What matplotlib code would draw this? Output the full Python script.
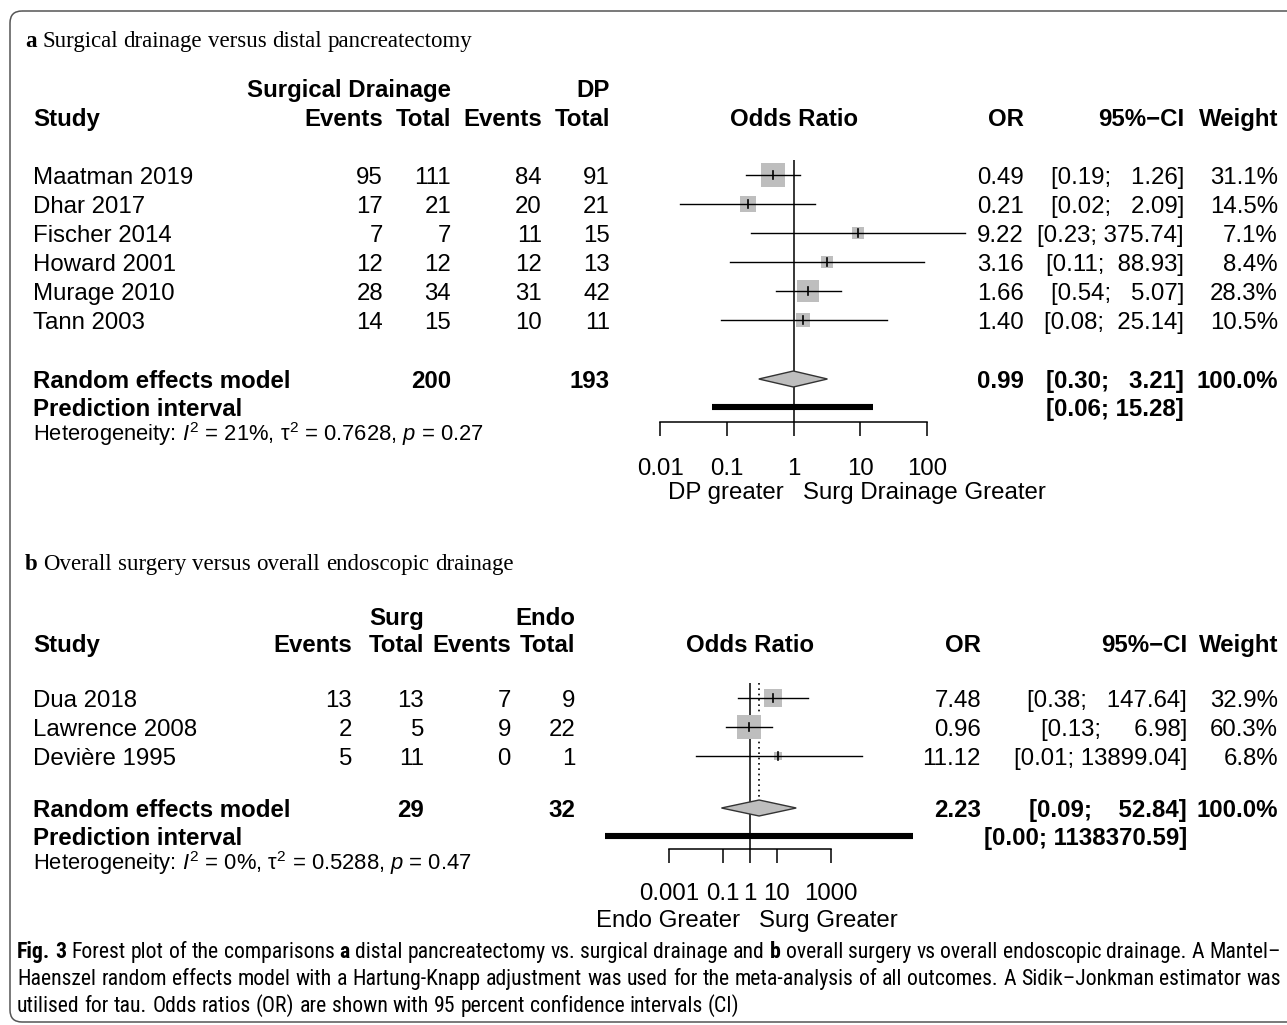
"""
Forest plots (a, b) of the pancreatic drainage meta-analysis, redrawn with matplotlib.

Everything is laid out in pixels: the figure is 1287x1025 px at dpi 100 and one
full-figure axes maps 1 data unit to 1 px (y grows downward). Each forest panel
gets its own log-x axes whose y units are the same pixel rows.
"""
import math

import matplotlib
matplotlib.use("Agg")
import matplotlib.pyplot as plt
from matplotlib.font_manager import FontProperties, fontManager
from matplotlib.patches import FancyBboxPatch
from matplotlib.ticker import NullLocator

W, H = 1287, 1025
SANS = "Liberation Sans"
SERIF = "Liberation Serif"
FS = 17.3            # table text, pt
GRAY = "#bebebe"

plt.rcParams.update({
    "font.family": SANS,
    "mathtext.fontset": "custom",
    "mathtext.rm": SANS,
    "mathtext.it": SANS + ":italic",
    "mathtext.bf": SANS + ":bold",
    "mathtext.default": "rm",
})

# ---- panel a: surgical drainage vs distal pancreatectomy
STUDIES_A = ["Maatman 2019", "Dhar 2017", "Fischer 2014", "Howard 2001", "Murage 2010", "Tann 2003"]
EV_SD = [95, 17, 7, 12, 28, 14]
N_SD = [111, 21, 7, 12, 34, 15]
EV_DP = [84, 20, 11, 12, 31, 10]
N_DP = [91, 21, 15, 13, 42, 11]
OR_A = [0.49, 0.21, 9.22, 3.16, 1.66, 1.40]
LO_A = [0.19, 0.02, 0.23, 0.11, 0.54, 0.08]
HI_A = [1.26, 2.09, 375.74, 88.93, 5.07, 25.14]
WT_A = [31.1, 14.5, 7.1, 8.4, 28.3, 10.5]
RE_A = [0.99, 0.30, 3.21]          # estimate, lower, upper
PI_A = [0.06, 15.28]
TOT_A = [200, 193]
HET_A = r"Heterogeneity: $\mathit{I}^2$ = 21%, $\tau^2$ = 0.7628, $\mathit{p}$ = 0.27"
TICKS_A = [0.01, 0.1, 1, 10, 100]
TICKLABELS_A = ["0.01", "0.1", "1", "10", "100"]

# ---- panel b: overall surgery vs overall endoscopic drainage
STUDIES_B = ["Dua 2018", "Lawrence 2008", "Devière 1995"]
EV_SU = [13, 2, 5]
N_SU = [13, 5, 11]
EV_EN = [7, 9, 0]
N_EN = [9, 22, 1]
OR_B = [7.48, 0.96, 11.12]
LO_B = [0.38, 0.13, 0.01]
HI_B = [147.64, 6.98, 13899.04]
WT_B = [32.9, 60.3, 6.8]
RE_B = [2.23, 0.09, 52.84]
PI_B = [0.0000044, 1138370.59]     # lower bound prints as 0.00
TOT_B = [29, 32]
HET_B = r"Heterogeneity: $\mathit{I}^2$ = 0%, $\tau^2$ = 0.5288, $\mathit{p}$ = 0.47"
TICKS_B = [0.001, 0.1, 1, 10, 1000]
TICKLABELS_B = ["0.001", "0.1", "1", "10", "1000"]

CAPTION = [
    [("Fig.", "bold"), ("3", "bold"), "Forest plot of the comparisons", ("a", "bold"),
     "distal pancreatectomy vs. surgical drainage and", ("b", "bold"),
     "overall surgery vs overall endoscopic drainage. A Mantel–"],
    ["Haenszel random effects model with a Hartung-Knapp adjustment was used for the "
     "meta-analysis of all outcomes. A Sidik–Jonkman estimator was"],
    ["utilised for tau. Odds ratios (OR) are shown with 95 percent confidence intervals (CI)"],
]


def pick_caption_font():
    # the journal caption is a condensed sans; use one if the box has it
    have = {(f.name, f.stretch) for f in fontManager.ttflist}
    names = {n for n, _ in have}
    for fam in ["Liberation Sans Narrow", "Roboto Condensed", "Open Sans Condensed", "Arial Narrow"]:
        if fam in names:
            return fam, "normal"
    for fam in ["DejaVu Sans", "Roboto", "Open Sans", "Noto Sans"]:
        for st in ("condensed", "semi-condensed"):
            if (fam, st) in have:
                return fam, st
    return SANS, "normal"


CAP_FAM, CAP_STRETCH = pick_caption_font()

fig = plt.figure(figsize=(W / 100, H / 100), dpi=100)
ax = fig.add_axes([0, 0, 1, 1])
ax.set_xlim(0, W)
ax.set_ylim(H, 0)
ax.axis("off")
rend = fig.canvas.get_renderer()


def text_w(s, size, family, weight="normal", stretch="normal"):
    # width incl. trailing spaces: measure against a sentinel glyph
    fp = FontProperties(family=family, size=size, weight=weight, stretch=stretch)
    w1 = rend.get_text_width_height_descent(s + "|", fp, ismath=False)[0]
    w0 = rend.get_text_width_height_descent("|", fp, ismath=False)[0]
    return w1 - w0


def split_words(parts):
    out = []
    for p in parts:
        if isinstance(p, tuple):
            out.append(p)
        else:
            out += [(w, "normal") for w in p.split()]
    return out


def word_line(x, y, words, size, family, right=None, stretch="normal"):
    widths = [text_w(w, size, family, wt, stretch) for w, wt in words]
    gap = text_w(" ", size, family, stretch=stretch)
    if right is not None:
        gap = (right - x - sum(widths)) / (len(words) - 1)
    for (w, wt), wd in zip(words, widths):
        ax.text(x, y, w, fontsize=size, family=family, fontweight=wt, fontstretch=stretch,
                va="baseline")
        x += wd + gap


def tx(x, y, s, ha="left", bold=False, size=FS):
    # y is the visual row centre; shift to baseline
    ax.text(x, y + 0.36 * size / 0.72, s, ha=ha, va="baseline", fontsize=size,
            fontweight="bold" if bold else "normal")


def ci_strings(lo, hi):
    his = [f"{h:.2f}" for h in hi]
    n = max(len(h) for h in his)
    return [f"[{l:.2f};{' ' * (1 + n - len(h))}{h}]" for l, h in zip(lo, his)]


def forest_axes(fx0, fx1, ticks, labels, top, axis_y, label_y):
    fa = fig.add_axes([fx0 / W, 1 - axis_y / H, (fx1 - fx0) / W, (axis_y - top) / H])
    fa.set_xscale("log")
    fa.set_xlim(ticks[0], ticks[-1])
    fa.set_ylim(axis_y, top)
    fa.patch.set_visible(False)
    for s in ("left", "right", "top"):
        fa.spines[s].set_visible(False)
    fa.spines["bottom"].set_linewidth(1.1)
    fa.yaxis.set_visible(False)
    fa.set_xticks(ticks, labels=labels)
    fa.xaxis.set_minor_locator(NullLocator())
    tick_px = 14
    pad = (label_y - 9 - axis_y - tick_px) * 0.72
    fa.tick_params(axis="x", direction="out", length=tick_px * 0.72, width=1.1,
                   pad=pad, labelsize=FS)
    return fa


def draw_panel(L, studies, ev1, n1, ev2, n2, ors, lo, hi, wt, re, pi, tot, het,
               grp1, grp2, ticks, ticklabels, left_lab, right_lab):
    c = L["cols"]
    # headers
    tx(c[1], L["hdr1"], grp1, ha="right", bold=True)
    tx(c[3], L["hdr1"], grp2, ha="right", bold=True)
    tx(33, L["hdr2"], "Study", bold=True)
    for x, s in zip(c[:4], ["Events", "Total", "Events", "Total"]):
        tx(x, L["hdr2"], s, ha="right", bold=True)
    tx(c[4], L["hdr2"], "OR", ha="right", bold=True)
    tx(c[5], L["hdr2"], "95%\u2212CI", ha="right", bold=True)
    tx(c[6], L["hdr2"], "Weight", ha="right", bold=True)

    cis = ci_strings(lo + [re[1]], hi + [re[2]])
    rows = [L["row0"] + i * L["step"] for i in range(len(studies))]
    for i, y in enumerate(rows):
        tx(33, y, studies[i])
        for x, v in zip(c[:4], [ev1[i], n1[i], ev2[i], n2[i]]):
            tx(x, y, str(v), ha="right")
        tx(c[4], y, f"{ors[i]:.2f}", ha="right")
        tx(c[5], y, cis[i], ha="right")
        tx(c[6], y, f"{wt[i]:.1f}%", ha="right")

    tx(33, L["re"], "Random effects model", bold=True)
    tx(c[1], L["re"], str(tot[0]), ha="right", bold=True)
    tx(c[3], L["re"], str(tot[1]), ha="right", bold=True)
    tx(c[4], L["re"], f"{re[0]:.2f}", ha="right", bold=True)
    tx(c[5], L["re"], cis[-1], ha="right", bold=True)
    tx(c[6], L["re"], "100.0%", ha="right", bold=True)
    tx(33, L["pi"], "Prediction interval", bold=True)
    tx(c[5], L["pi"], f"[{pi[0]:.2f}; {pi[1]:.2f}]", ha="right", bold=True)
    tx(33, L["het"], het, size=15.8)

    fa = forest_axes(L["fx0"], L["fx1"], ticks, ticklabels, L["top"], L["axis"], L["label"])
    fa.plot([1, 1], [L["top"], L["axis"]], color="black", lw=1.1, zorder=1)
    if abs(math.log10(re[0])) > 0.05:   # pooled line only shows when off the null line
        fa.plot([re[0], re[0]], [L["top"], L["re"] - 8], color="black", lw=1.2,
                ls=(0, (1, 2.2)), zorder=1)
    wmax = max(wt)
    for i, y in enumerate(rows):
        side = 24 * math.sqrt(wt[i] / wmax) * 0.72
        fa.scatter([ors[i]], [y], marker="s", s=side ** 2, color=GRAY, lw=0,
                   zorder=2, clip_on=False)
        fa.plot([lo[i], hi[i]], [y, y], color="black", lw=1.0, zorder=3, clip_on=False)
        fa.plot([ors[i], ors[i]], [y - 4, y + 4], color="black", lw=1.2, zorder=4)
    y = L["re"]
    fa.fill([re[1], re[0], re[2], re[0]], [y, y - 8, y, y + 8], facecolor=GRAY,
            edgecolor="#333333", lw=1.0, zorder=3, clip_on=False)
    fa.plot(pi, [L["pi"], L["pi"]], color="black", lw=4.4, solid_capstyle="butt",
            zorder=3, clip_on=False)

    fa.text(1, L["hdr2"] + 8.6, "Odds Ratio", ha="center", va="baseline",
            fontsize=FS, fontweight="bold")
    for lab, dx, ha in [(left_lab, -7, "right"), (right_lab, 7, "left")]:
        fa.annotate(lab, xy=(1, L["dir"] + 8.6), xytext=(dx, 0), textcoords="offset points",
                    ha=ha, va="baseline", fontsize=FS, annotation_clip=False)


# outer frame (runs off the right edge like the journal crop)
ax.add_patch(FancyBboxPatch((10, 11), 1320, 1011, boxstyle="round,pad=0,rounding_size=12",
                            fill=False, ec="#555555", lw=1.1, clip_on=False))

word_line(25, 47, split_words([("a", "bold"), "Surgical drainage versus distal pancreatectomy"]),
          16.5, SERIF)
word_line(25, 570, split_words([("b", "bold"), "Overall surgery versus overall endoscopic drainage"]),
          16.5, SERIF)

LAY_A = dict(cols=[383, 451, 542, 610, 1024, 1184, 1278], hdr1=88, hdr2=117, row0=175,
             step=29, re=379, pi=407, het=433, top=160, axis=422, label=467, dir=490,
             fx0=660.3, fx1=927)
LAY_B = dict(cols=[352, 424, 511, 575, 981, 1187, 1278], hdr1=616, hdr2=643, row0=698,
             step=29, re=808, pi=836, het=862, top=683, axis=849, label=892, dir=918,
             fx0=668.7, fx1=830.7)

draw_panel(LAY_A, STUDIES_A, EV_SD, N_SD, EV_DP, N_DP, OR_A, LO_A, HI_A, WT_A, RE_A, PI_A,
           TOT_A, HET_A, "Surgical Drainage", "DP", TICKS_A, TICKLABELS_A,
           "DP greater", "Surg Drainage Greater")
draw_panel(LAY_B, STUDIES_B, EV_SU, N_SU, EV_EN, N_EN, OR_B, LO_B, HI_B, WT_B, RE_B, PI_B,
           TOT_B, HET_B, "Surg", "Endo", TICKS_B, TICKLABELS_B,
           "Endo Greater", "Surg Greater")

# caption: first two lines justified to the frame width
cap_words = [split_words(p) for p in CAPTION]
cap_size = 16.5
nat = max(sum(text_w(w, cap_size, CAP_FAM, wt, CAP_STRETCH) for w, wt in ws)
          + text_w(" ", cap_size, CAP_FAM, stretch=CAP_STRETCH) * (len(ws) - 1)
          for ws in cap_words[:2])
cap_size = min(cap_size, cap_size * 1262 / nat)
for k, ws in enumerate(cap_words):
    word_line(17, 958 + 27 * k, ws, cap_size, CAP_FAM, right=1281 if k < 2 else None,
              stretch=CAP_STRETCH)

fig.savefig("out.png", dpi=100)
